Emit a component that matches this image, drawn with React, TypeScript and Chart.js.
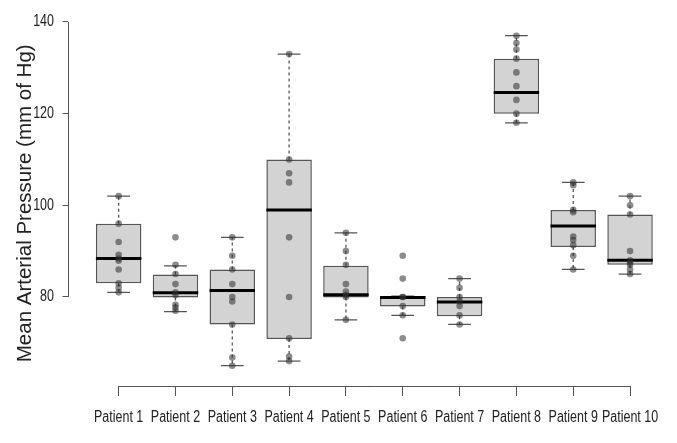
import { useEffect, useRef } from 'react';
import { Chart, registerables } from 'chart.js';

Chart.register(...registerables);

const patients = ['Patient 1', 'Patient 2', 'Patient 3', 'Patient 4', 'Patient 5', 'Patient 6', 'Patient 7', 'Patient 8', 'Patient 9', 'Patient 10'];
const whiskerLow = [81, 76.8, 65, 66, 75, 76, 74, 118, 86, 85];
const q1 = [83, 79.9, 74, 70.8, 79.9, 77.9, 75.8, 120, 90.9, 87];
const medians = [88.4, 80.9, 81.4, 99, 80.5, 79.9, 78.9, 124.6, 95.5, 88];
const q3 = [96, 84.9, 86, 110, 86.8, 80.2, 80, 132, 99, 98];
const whiskerHigh = [102, 86.8, 93, 133, 94, 80.2, 84, 137, 105, 102];
const observations = [
  [102, 96, 92, 89.2, 88.4, 87.9, 86, 83, 82, 81],
  [93, 87, 85, 82.8, 81, 80.4, 78.3, 77.7, 77],
  [93, 89, 86, 82.8, 80, 79, 74, 66.8, 65],
  [133, 110, 107, 105, 93, 80, 71, 67, 66],
  [94, 90, 87, 82.8, 81.2, 80.4, 80, 75],
  [89, 84, 80, 80, 78, 76, 71],
  [84, 82, 80, 79, 78, 76, 74],
  [137, 135.4, 134, 132, 129, 126, 123, 120, 118],
  [105, 104.4, 99, 98.5, 93.2, 92.4, 91.3, 89, 86],
  [102, 100, 98, 90, 88, 87.5, 87, 86, 85],
];
const yTicks = [80, 100, 120, 140];
const yTitle = 'Mean Arterial Pressure (mm of Hg)';

const REGULAR = "'Liberation Sans', Arial, sans-serif";
const AXIS_COLOR = '#555555';
const TEXT_COLOR = '#222222';
const CAP_HALF = 0.2;
const MED_HALF = 0.4;
const SQUEEZE = 0.78;
const X_LABEL_OFFSET = 36;
const Y_LABEL_GAP = 13.5;

export default function App() {
  const ref = useRef<HTMLCanvasElement>(null);
  useEffect(() => {
    if (!ref.current) return;
    const xs = patients.map((_, i) => i + 1);

    const boxData = xs.map((x, i) => ({ x, y: [q1[i], q3[i]] }));
    const whiskerData: any[] = [];
    const capData: any[] = [];
    const medianData: any[] = [];
    xs.forEach((x, i) => {
      whiskerData.push({ x, y: q3[i] }, { x, y: whiskerHigh[i] }, { x, y: null });
      whiskerData.push({ x, y: q1[i] }, { x, y: whiskerLow[i] }, { x, y: null });
      capData.push({ x: x - CAP_HALF, y: whiskerHigh[i] }, { x: x + CAP_HALF, y: whiskerHigh[i] }, { x, y: null });
      capData.push({ x: x - CAP_HALF, y: whiskerLow[i] }, { x: x + CAP_HALF, y: whiskerLow[i] }, { x, y: null });
      medianData.push({ x: x - MED_HALF, y: medians[i] }, { x: x + MED_HALF, y: medians[i] }, { x, y: null });
    });
    const pointData: any[] = [];
    observations.forEach((vals, i) => vals.forEach((v) => pointData.push({ x: xs[i], y: v })));

    const axisDecor = {
      id: 'rAxisDecor',
      afterDraw(chart: any) {
        const { ctx, chartArea, scales } = chart;
        ctx.save();
        ctx.strokeStyle = AXIS_COLOR;
        ctx.lineWidth = 1;
        const yA = scales.y.getPixelForValue(yTicks[0]);
        const yB = scales.y.getPixelForValue(yTicks[yTicks.length - 1]);
        const lx = Math.round(chartArea.left) + 0.5;
        ctx.beginPath();
        ctx.moveTo(lx, yA);
        ctx.lineTo(lx, yB);
        ctx.stroke();
        const xA = scales.x.getPixelForValue(xs[0]);
        const xB = scales.x.getPixelForValue(xs[xs.length - 1]);
        const by = Math.round(chartArea.bottom) + 0.5;
        ctx.beginPath();
        ctx.moveTo(xA, by);
        ctx.lineTo(xB, by);
        ctx.stroke();

        ctx.fillStyle = TEXT_COLOR;
        ctx.font = `16px ${REGULAR}`;
        ctx.textAlign = 'center';
        ctx.textBaseline = 'alphabetic';
        xs.forEach((v, i) => {
          ctx.save();
          ctx.translate(scales.x.getPixelForValue(v), chartArea.bottom + X_LABEL_OFFSET);
          ctx.scale(SQUEEZE, 1);
          ctx.fillText(patients[i], 0, 0);
          ctx.restore();
        });
        ctx.textAlign = 'right';
        ctx.textBaseline = 'middle';
        yTicks.forEach((v) => {
          ctx.save();
          ctx.translate(chartArea.left - Y_LABEL_GAP, scales.y.getPixelForValue(v));
          ctx.scale(SQUEEZE, 1);
          ctx.fillText(String(v), 0, 0);
          ctx.restore();
        });
        ctx.restore();
      },
    };

    const chart = new Chart(ref.current, {
      type: 'bar',
      data: {
        datasets: [
          {
            type: 'scatter',
            data: pointData,
            order: 0,
            backgroundColor: 'rgba(45,45,45,0.55)',
            borderWidth: 0,
            pointRadius: 3.3,
          } as any,
          {
            type: 'line',
            data: medianData,
            order: 1,
            borderColor: '#000000',
            borderWidth: 3,
            pointRadius: 0,
            spanGaps: false,
          } as any,
          {
            type: 'line',
            data: capData,
            order: 2,
            borderColor: AXIS_COLOR,
            borderWidth: 1.3,
            pointRadius: 0,
            spanGaps: false,
          } as any,
          {
            type: 'line',
            data: whiskerData,
            order: 3,
            borderColor: AXIS_COLOR,
            borderWidth: 1.3,
            borderDash: [3, 3],
            pointRadius: 0,
            spanGaps: false,
          } as any,
          {
            type: 'bar',
            data: boxData,
            order: 4,
            backgroundColor: '#d3d3d3',
            borderColor: AXIS_COLOR,
            borderWidth: 1.5,
            borderSkipped: false,
            barPercentage: 0.8,
            categoryPercentage: 1,
          } as any,
        ],
      },
      options: {
        animation: false,
        responsive: true,
        maintainAspectRatio: false,
        devicePixelRatio: 1,
        layout: { padding: { top: 20.6, right: 0, left: 0, bottom: 0 } },
        plugins: { legend: { display: false }, tooltip: { enabled: false } },
        scales: {
          x: {
            type: 'linear',
            min: 0.1,
            max: 10.756,
            offset: false,
            afterFit: (s: any) => { s.height = 57; },
            afterBuildTicks: (s: any) => { s.ticks = xs.map((v) => ({ value: v })); },
            border: { display: false },
            grid: { offset: false, drawOnChartArea: false, drawTicks: true, tickLength: 10, color: AXIS_COLOR },
            ticks: { display: false, autoSkip: false, maxRotation: 0 },
          },
          y: {
            type: 'linear',
            min: 60.57,
            max: 140.3,
            afterFit: (s: any) => { s.width = 67.5; },
            afterBuildTicks: (s: any) => { s.ticks = yTicks.map((v) => ({ value: v })); },
            border: { display: false },
            grid: { drawOnChartArea: false, drawTicks: true, tickLength: 5, color: AXIS_COLOR },
            ticks: { display: false },
            title: {
              display: true,
              text: yTitle,
              color: TEXT_COLOR,
              font: { family: REGULAR, size: 20.5 },
              padding: { top: 13, bottom: 0 },
            },
          },
        },
      },
      plugins: [axisDecor],
    } as any);
    return () => chart.destroy();
  }, []);
  return (
    <div style={{ position: 'fixed', left: 0, top: 0, width: 677, height: 443, background: '#ffffff' }}>
      <canvas ref={ref} />
    </div>
  );
}
